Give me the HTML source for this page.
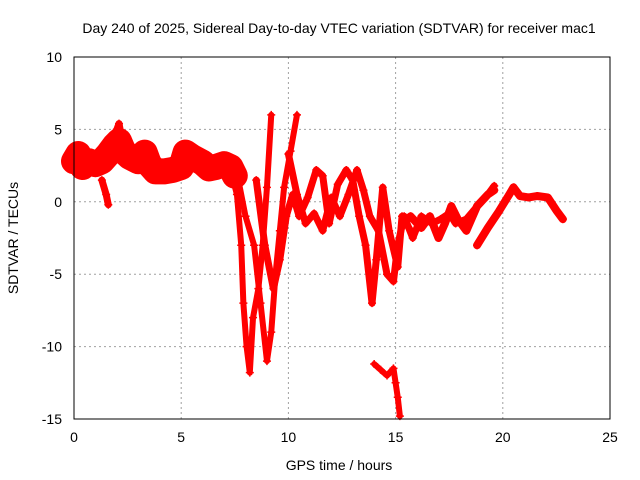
<!DOCTYPE html>
<html><head><meta charset="utf-8"><style>
body{margin:0;background:#fff}
svg{display:block;font-family:"Liberation Sans",sans-serif}
</style></head><body>
<svg id="chart" width="640" height="480" xmlns="http://www.w3.org/2000/svg">
<text x="339" y="33" font-size="14" text-anchor="middle">Day 240 of 2025, Sidereal Day-to-day VTEC variation (SDTVAR) for receiver mac1</text>
<text x="339" y="470" font-size="14" text-anchor="middle">GPS time / hours</text>
<text transform="translate(18,238) rotate(-90)" font-size="14" text-anchor="middle">SDTVAR / TECUs</text>
<g id="grid"></g><g id="ticks"></g><g id="marks"></g>
<rect x="74" y="57" width="536" height="362" fill="none" stroke="#000" stroke-width="1"/>
</svg>
<script>
const xTicks=[0,5,10,15,20,25];
const yTicks=[10,5,0,-5,-10,-15];
const seriesA=[[0,2.8],[0.2,3.3],[0.4,2.4],[0.7,2.8],[1,2.6],[1.3,2.8],[1.6,3.3],[1.9,3.9],[2.1,4.2],[2.3,3.5],[2.6,3.1],[3,2.8],[3.3,3.4],[3.5,2.6],[3.8,2.1],[4.2,2.1],[4.6,2.2],[5,2.4],[5.2,3.4],[5.5,3.1],[6,2.7],[6.3,2.3],[6.6,2.4],[7,2.6],[7.3,2.4],[7.5,1.8]];
const seriesB=[[1.3,1.5],[1.5,0.5],[1.6,-0.2]];
const seriesTop=[[1.8,4.5],[2.0,5.0],[2.1,5.4],[2.2,4.6]];
const seriesC=[[7.3,2.2],[7.6,0.5],[7.8,-3],[7.9,-7],[8.05,-10],[8.2,-11.8],[8.35,-8],[8.6,-6],[8.8,-3],[9.0,1],[9.2,6]];
const seriesD=[[7.6,2],[8.0,-1],[8.4,-3],[8.7,-7],[9.0,-11],[9.2,-9],[9.4,-5],[9.6,-2],[9.8,1],[10.1,3.5],[10.4,6]];
const seriesE=[[8.5,1.5],[8.9,-3],[9.3,-6],[9.6,-4],[9.9,-1],[10.2,0.5],[10.5,-1],[10.9,0.3],[11.3,2.2],[11.6,1.8],[11.9,-1.5],[12.3,1.2],[12.7,2.2],[13,1.5],[13.3,-1],[13.6,-3],[13.9,-7],[14.1,-4],[14.4,1],[14.7,-2],[15.1,-4.5],[15.3,-1],[15.7,-2]];
const seriesF=[[10.0,3.3],[10.4,0.5],[10.8,-1.5],[11.2,-0.8],[11.6,-2],[12,0.3],[12.4,-1],[12.8,0.5],[13.2,2.2],[13.5,0.8],[13.8,-1],[14.2,-2],[14.6,-5],[14.9,-5.5],[15.1,-3],[15.4,-1],[15.8,-2.5],[16.2,-1],[16.7,-1.5],[17.1,-1.2],[17.5,-0.8],[17.8,-1.5],[18.3,-1.2],[18.7,-0.5],[19.2,0.3],[19.6,1.1]];
const seriesG=[[15.3,-1.5],[15.7,-1],[16.2,-1.8],[16.6,-1],[17,-2.5],[17.3,-1.5],[17.6,-0.3],[17.9,-1.2],[18.3,-2],[18.8,-0.3],[19.3,0.5],[19.6,0.8]];
const seriesH=[[18.8,-3],[19.3,-1.8],[19.8,-0.7],[20.3,0.5],[20.5,1.0],[20.8,0.4],[21.2,0.3],[21.6,0.4],[22.1,0.3],[22.5,-0.6],[22.8,-1.2]];
const seriesLow=[[14,-11.2],[14.3,-11.6],[14.6,-12],[14.9,-11.5],[15.0,-12.5],[15.1,-13.5],[15.2,-14.8]];
const allSeries=[seriesA,seriesB,seriesTop,seriesC,seriesD,seriesE,seriesF,seriesG,seriesH,seriesLow];
const widths=[26,7,7,6,6,7,7,8,8,6];
const X=v=>74+v*536/25, Y=v=>57+(10-v)*362/25;
const NS="http://www.w3.org/2000/svg";
const grid=document.getElementById('grid'),ticks=document.getElementById('ticks'),marks=document.getElementById('marks');
function mk(tag,at,parent){const e=document.createElementNS(NS,tag);for(const k in at)e.setAttribute(k,at[k]);parent.appendChild(e);return e;}
xTicks.forEach(t=>{
 if(t>0&&t<25){const g=mk('line',{x1:X(t),x2:X(t),y1:57,y2:419,stroke:'#a0a0a0','stroke-dasharray':'2,3'},grid);
 
 }
 const l=mk('text',{x:X(t),y:442,'font-size':14,'text-anchor':'middle'},ticks);l.textContent=t;
 
 
});
yTicks.forEach(t=>{
 if(t>-15&&t<10){const g=mk('line',{x1:74,x2:610,y1:Y(t),y2:Y(t),stroke:'#a0a0a0','stroke-dasharray':'2,3'},grid);
 
 }
 const l=mk('text',{x:62,y:Y(t)+5,'font-size':14,'text-anchor':'end'},ticks);l.textContent=t;
 
 
});
allSeries.forEach((s,i)=>{
 const p=mk('polyline',{points:s.map(d=>X(d[0])+','+Y(d[1])).join(' '),fill:'none',stroke:'#ff0000','stroke-width':widths[i],'stroke-linejoin':'round','stroke-linecap':'round'},marks);
 
 
 s.forEach(d=>{
  const m=mk('path',{d:`M${X(d[0])-4},${Y(d[1])}h8M${X(d[0])},${Y(d[1])-4}v8`,stroke:'#ff0000','stroke-width':1.5},marks);
  
  
 });
});
</script>
</body></html>
